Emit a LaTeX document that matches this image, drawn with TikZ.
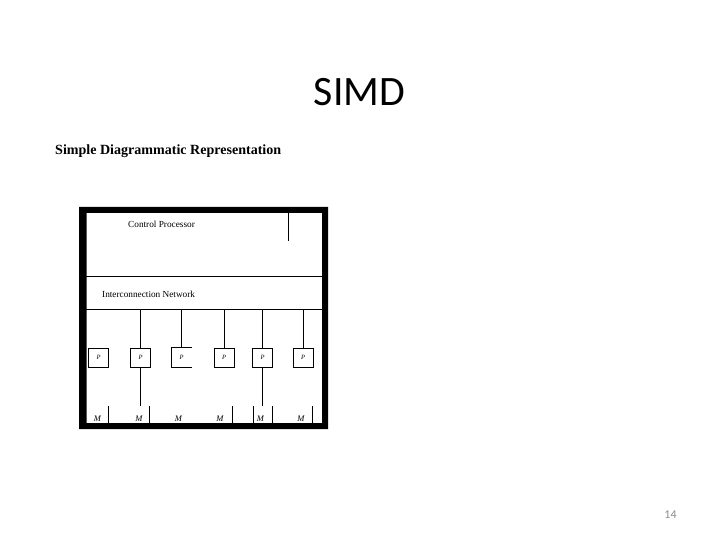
\documentclass[tikz,border=0pt]{standalone}
\usepackage{fontspec}
\setmainfont{Liberation Serif}
\newfontfamily\calib{Carlito}
\begin{document}
\begin{tikzpicture}[x=1bp,y=-1bp,
  thin line/.style={line width=1bp},
  pbox/.style={draw,line width=1bp,minimum width=20bp,minimum height=19bp,inner sep=0pt,font=\fontsize{6.5}{6.5}\selectfont\itshape},
  mlabel/.style={inner sep=0pt,anchor=base,font=\fontsize{8.5}{8.5}\selectfont\itshape},
  dlabel/.style={inner sep=0pt,anchor=base west,font=\fontsize{9.3}{9.3}\selectfont}]
\useasboundingbox (0,0) rectangle (720,540);
% titles
\node[font=\calib\fontsize{42}{42}\selectfont,anchor=base,inner sep=0pt] (title) at (359.5,106) {SIMD};
\node[font=\bfseries\fontsize{14.1}{14.1}\selectfont,anchor=base west,inner sep=0pt] (sub) at (55,155) {Simple Diagrammatic Representation};
\node[font=\calib\fontsize{12}{12}\selectfont,anchor=base,inner sep=0pt,text=black!45] (pg) at (670.5,518) {14};
% frame
\fill[even odd rule] (79,207) rectangle (328,429) (86.5,213) rectangle (322,423);
% regions
\node[inner sep=0pt,minimum width=235.5bp,minimum height=63bp] (cp) at (204.25,244.5) {};
\node[inner sep=0pt,minimum width=235.5bp,minimum height=33bp] (net) at (204.25,292.5) {};
\draw[thin line] (cp.south west) -- (cp.south east);
\draw[thin line] (net.south west) -- (net.south east);
\coordinate (cptick) at (288,241);
\draw[thin line] (cptick) -- (cptick |- cp.north);
\node[dlabel] (cptext) at (128,228) {Control Processor};
\node[dlabel] (nettext) at (102,297) {Interconnection Network};
% processors
\node[pbox] (p1) at (98.5,357.5) {P};
\node[pbox] (p2) at (140.5,357.5) {P};
\node[pbox,draw=none] (p3) at (181.5,357.5) {P};
\draw[thin line] (p3.north east) -- (p3.north west) -- (p3.south west) -- (p3.south east);
\node[pbox] (p4) at (224,357.5) {P};
\node[pbox] (p5) at (262.5,357.5) {P};
\node[pbox] (p6) at (303,357.5) {P};
\foreach \i in {2,...,6} \draw[thin line] (p\i.north) -- (p\i.north |- net.south);
% memory level
\coordinate (mtop2) at (140.5,406);
\coordinate (mtop5) at (262.5,406);
\draw[thin line] (p2.south) -- (mtop2);
\draw[thin line] (p5.south) -- (mtop5);
\foreach \x in {108,149,232,253,272,312} {
  \coordinate (mt\x) at (\x,406);
  \coordinate (mb\x) at (\x,423);
  \draw[thin line] (mt\x) -- (mb\x);
}
\foreach \x/\n in {97.5/1,139/2,178.5/3,220/4,260.5/5,301/6}
  \node[mlabel] (m\n) at (\x,421.5) {M};
\end{tikzpicture}
\end{document}
